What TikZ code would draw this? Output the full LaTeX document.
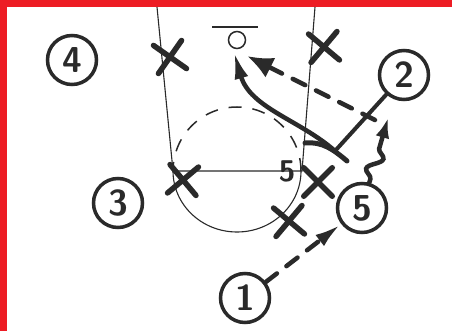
\documentclass[tikz,border=0pt]{standalone}
\usepackage{fontspec}
\usetikzlibrary{arrows.meta,shapes.misc,decorations.pathmorphing}
\definecolor{Ink}{HTML}{2A2A2A}
\definecolor{Frame}{HTML}{ED1C24}

\begin{document}
\begin{tikzpicture}[x=1pt,y=-1pt,>=Latex,
 player/.style={circle,draw=Ink,line width=3.5pt,minimum size=49pt,inner sep=0pt,text=Ink,font=\sffamily\bfseries\fontsize{36}{36}\selectfont},
 guard/.style={cross out,draw=Ink,line width=5.5pt,minimum size=23pt,inner sep=0pt,line cap=round},
 court/.style={draw=Ink,line width=1.1pt},
 pass/.style={->,draw=Ink,line width=4.5pt,dash pattern=on 14pt off 12pt,line cap=round},
 move/.style={->,draw=Ink,line width=4.5pt,line cap=round},
 screen/.style={draw=Ink,line width=4pt,line cap=round}]
 \useasboundingbox (0,0) rectangle (452,331);
 \fill[white] (0,0) rectangle (452,331);
 \fill[Frame] (0,0) rectangle (452,7);
 \fill[Frame] (0,0) rectangle (7,331);
 % lane, free throw line and circle
 \coordinate (laneTL) at (157,7); \coordinate (laneBL) at (173,171);
 \coordinate (laneTR) at (315,7); \coordinate (laneBR) at (302,171);
 \draw[court] (laneTL) -- (laneBL) -- (laneBR) -- (laneTR);
 \draw[court] (237,171) ++(-64pt,0pt) arc[start angle=180,end angle=360,x radius=64pt,y radius=61pt];
 \draw[court,line width=1.5pt,dash pattern=on 13pt off 11pt] (237,171) ++(64pt,0pt) arc[start angle=0,end angle=180,radius=64pt];
 % basket
 \coordinate (boardL) at (212,27); \coordinate (boardR) at (258,27);
 \draw[draw=Ink,line width=1.8pt] (boardL) -- (boardR);
 \node[circle,draw=Ink,line width=1.5pt,minimum size=17pt,inner sep=0pt] (rim) at (237,40) {};
 \node[text=Ink,font=\sffamily\bfseries\fontsize{30}{30}\selectfont] (mark) at (287,171) {5};
 % offence
 \node[player] (p4) at (72,60) {4};
 \node[player] (p3) at (118,203) {3};
 \node[player] (p2) at (404,75) {2};
 \node[player] (p5) at (362,208) {5};
 \node[player] (p1) at (245,298) {1};
 % defence
 \node[guard,rotate=10] (x4) at (170,57) {};
 \node[guard,rotate=5] (x2) at (324,47) {};
 \node[guard,rotate=-5] (x3) at (183,180) {};
 \node[guard] (x5) at (318,182) {};
 \node[guard,rotate=5] (x1) at (289,221) {};
 % actions
 \coordinate (scr) at (335,151);
 \coordinate (barA) at (305,143); \coordinate (barB) at (347,161);
 \coordinate (give) at (375,120); \coordinate (catch) at (247,56);
 \coordinate (cut) at (234,52);
 \coordinate (drive) at (388,118);
 \draw[screen] (p2) -- (scr);
 \draw[screen,line width=5pt] (barA) to[out=5,in=140] (barB);
 \draw[move,-{Latex[length=27pt,width=14pt]}] (scr) .. controls (300,120) and (250,108) .. (cut);
 \draw[pass,-{Latex[length=26pt,width=22pt]}] (give) -- (catch);
 \draw[pass,-{Latex[length=26pt,width=14pt]},shorten >=1pt] (p1) -- (p5);
 \draw[move,-{Latex[length=20pt,width=14pt]},decorate,decoration={snake,amplitude=7pt,segment length=28pt,pre length=4pt,post length=18pt}] (p5) -- (drive);
\end{tikzpicture}
\end{document}
